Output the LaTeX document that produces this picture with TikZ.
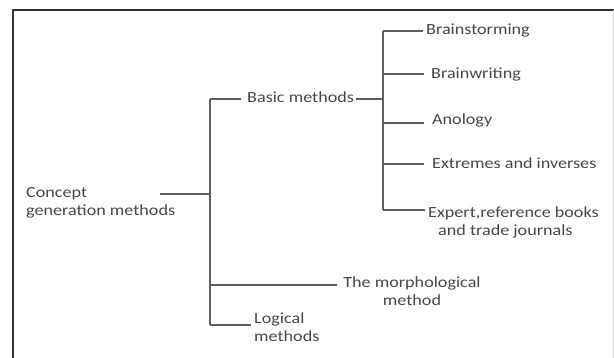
\documentclass[tikz,border=0pt]{standalone}
\usepackage{fontspec}
\setmainfont{Carlito}[FakeStretch=1.17]
\definecolor{txt}{HTML}{474747}
\definecolor{ln}{HTML}{5E5E5E}
\definecolor{frm}{HTML}{333333}
\definecolor{lt}{HTML}{D0D0D0}
\begin{document}
\begin{tikzpicture}[x=1pt,y=-1pt,
  lab/.style={inner sep=0pt, text=txt, font=\fontsize{15.5}{18}\selectfont, anchor=base west},
  conn/.style={draw=ln, line width=1.3pt},
  framel/.style={draw=frm, line width=1.6pt}]
\useasboundingbox (0,0) rectangle (614,358);
\draw[framel] (13,362) -- (13,10) -- (616,10);
\draw[draw=lt, line width=1pt] (613,10) -- (613,362);

\node[lab] (concept) at (26,197.5) {\begin{tabular}[t]{@{}l@{}}Concept\\generation methods\end{tabular}};
\node[lab] (basic) at (247,103) {Basic methods};
\node[lab] (bs) at (426,35) {Brainstorming};
\node[lab] (bw) at (431,79) {Brainwriting};
\node[lab] (an) at (432,125) {Anology};
\node[lab] (ex) at (432,169) {Extremes and inverses};
\node[lab] (exp) at (428,218) {\begin{tabular}[t]{@{}l@{}}Expert,reference books\\\hspace*{10pt}and trade journals\end{tabular}};
\node[lab, anchor=base] (morph) at (412,288) {\begin{tabular}[t]{@{}c@{}}The morphological\\method\end{tabular}};
\node[lab] (logm) at (254,323.5) {\begin{tabular}[t]{@{}l@{}}Logical\\methods\end{tabular}};

\coordinate (cstart) at (160,194);
\coordinate (ttop) at (210,99);
\coordinate (tmid) at (210,194);
\coordinate (tmor) at (210,285);
\coordinate (tbot) at (210,325);
\coordinate (stop) at (383,31);
\coordinate (s2) at (383,74);
\coordinate (s3) at (383,123);
\coordinate (s4) at (383,164);
\coordinate (sbot) at (383,210);

\draw[conn] (cstart) -- (tmid);
\draw[conn] (ttop) -- (tbot);
\draw[conn, shorten >=6pt] (ttop) -- (ttop -| basic.west);
\draw[conn, shorten <=2pt] (basic.east |- ttop) -- (ttop -| stop);
\draw[conn] (stop) -- (sbot);
\draw[conn, shorten >=3pt] (stop) -- (stop -| bs.west);
\draw[conn, shorten >=7pt] (s2) -- (s2 -| bw.west);
\draw[conn, shorten >=8pt] (s3) -- (s3 -| an.west);
\draw[conn, shorten >=8pt] (s4) -- (s4 -| ex.west);
\draw[conn, shorten >=3pt] (sbot) -- (sbot -| exp.west);
\draw[conn, shorten >=6pt] (tmor) -- (tmor -| morph.west);
\draw[conn, shorten >=3pt] (tbot) -- (tbot -| logm.west);
\end{tikzpicture}
\end{document}
